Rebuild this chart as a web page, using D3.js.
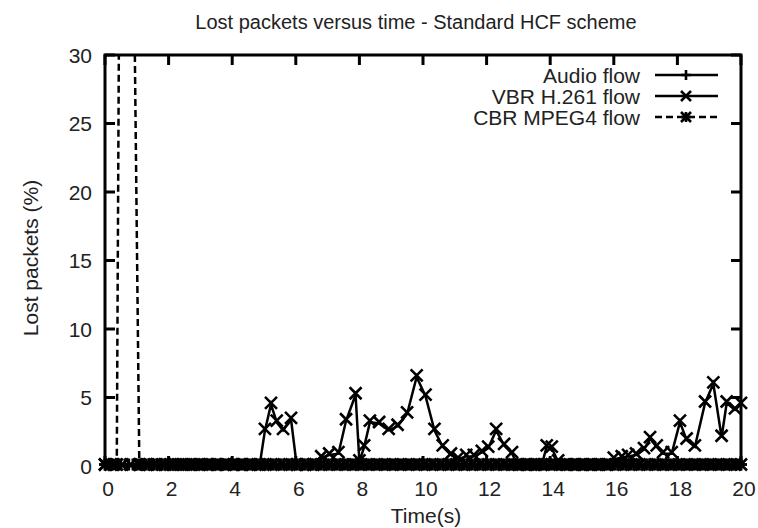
<!DOCTYPE html>
<html>
<head>
<meta charset="utf-8">
<script src="https://cdn.jsdelivr.net/npm/d3@7"></script>
<style>
  html, body { margin: 0; padding: 0; background: #fff; }
  svg text {
    font-family: "Liberation Sans", Arial, Helvetica, sans-serif;
    fill: #222;
  }
</style>
</head>
<body>
<svg id="chart" width="758" height="528"></svg>
<script>
// ---- chart data -------------------------------------------------------
const chartTitle = "Lost packets versus time - Standard HCF scheme";
const xAxisLabel = "Time(s)";
const yAxisLabel = "Lost packets (%)";
const xTickValues = [0, 2, 4, 6, 8, 10, 12, 14, 16, 18, 20];
const yTickValues = [0, 5, 10, 15, 20, 25, 30];
const seriesNames = ["Audio flow", "VBR H.261 flow", "CBR MPEG4 flow"];

// Audio flow: sampled every 0.125 s, no losses during the run
const audioTime = [
  0, 0.125, 0.25, 0.375, 0.5, 0.625, 0.75, 0.875, 1, 1.125, 1.25, 1.375, 1.5, 1.625, 1.75, 1.875,
  2, 2.125, 2.25, 2.375, 2.5, 2.625, 2.75, 2.875, 3, 3.125, 3.25, 3.375, 3.5, 3.625, 3.75, 3.875,
  4, 4.125, 4.25, 4.375, 4.5, 4.625, 4.75, 4.875, 5, 5.125, 5.25, 5.375, 5.5, 5.625, 5.75, 5.875,
  6, 6.125, 6.25, 6.375, 6.5, 6.625, 6.75, 6.875, 7, 7.125, 7.25, 7.375, 7.5, 7.625, 7.75, 7.875,
  8, 8.125, 8.25, 8.375, 8.5, 8.625, 8.75, 8.875, 9, 9.125, 9.25, 9.375, 9.5, 9.625, 9.75, 9.875,
  10, 10.125, 10.25, 10.375, 10.5, 10.625, 10.75, 10.875, 11, 11.125, 11.25, 11.375, 11.5, 11.625, 11.75, 11.875,
  12, 12.125, 12.25, 12.375, 12.5, 12.625, 12.75, 12.875, 13, 13.125, 13.25, 13.375, 13.5, 13.625, 13.75, 13.875,
  14, 14.125, 14.25, 14.375, 14.5, 14.625, 14.75, 14.875, 15, 15.125, 15.25, 15.375, 15.5, 15.625, 15.75, 15.875,
  16, 16.125, 16.25, 16.375, 16.5, 16.625, 16.75, 16.875, 17, 17.125, 17.25, 17.375, 17.5, 17.625, 17.75, 17.875,
  18, 18.125, 18.25, 18.375, 18.5, 18.625, 18.75, 18.875, 19, 19.125, 19.25, 19.375, 19.5, 19.625, 19.75, 19.875,
  20
];
const audioLoss = [
  0, 0, 0, 0, 0, 0, 0, 0, 0, 0, 0, 0, 0, 0, 0, 0,
  0, 0, 0, 0, 0, 0, 0, 0, 0, 0, 0, 0, 0, 0, 0, 0,
  0, 0, 0, 0, 0, 0, 0, 0, 0, 0, 0, 0, 0, 0, 0, 0,
  0, 0, 0, 0, 0, 0, 0, 0, 0, 0, 0, 0, 0, 0, 0, 0,
  0, 0, 0, 0, 0, 0, 0, 0, 0, 0, 0, 0, 0, 0, 0, 0,
  0, 0, 0, 0, 0, 0, 0, 0, 0, 0, 0, 0, 0, 0, 0, 0,
  0, 0, 0, 0, 0, 0, 0, 0, 0, 0, 0, 0, 0, 0, 0, 0,
  0, 0, 0, 0, 0, 0, 0, 0, 0, 0, 0, 0, 0, 0, 0, 0,
  0, 0, 0, 0, 0, 0, 0, 0, 0, 0, 0, 0, 0, 0, 0, 0,
  0, 0, 0, 0, 0, 0, 0, 0, 0, 0, 0, 0, 0, 0, 0, 0,
  0
];

// VBR H.261 flow
const vbrTime = [
  0, 0.27, 0.54, 0.81, 1.08, 1.35, 1.62, 1.89, 2.16, 2.43, 2.7, 2.97, 3.24, 3.51, 3.78, 4.05,
  4.32, 4.59, 4.86, 5.03, 5.22, 5.4, 5.6, 5.85, 6.03, 6.3, 6.55, 6.8, 7.05, 7.34, 7.58, 7.88,
  8.0, 8.15, 8.33, 8.62, 8.92, 9.2, 9.5, 9.8, 10.08, 10.36, 10.62, 10.88, 11.1, 11.36, 11.6, 11.85,
  12.05, 12.3, 12.55, 12.8, 13.0, 13.25, 13.5, 13.72, 13.89, 14.05, 14.25, 14.5, 14.75, 15.0, 15.25, 15.5,
  15.75, 16.0, 16.25, 16.45, 16.7, 16.95, 17.14, 17.35, 17.55, 17.82, 18.08, 18.29, 18.55, 18.87, 19.13, 19.39,
  19.55, 19.81, 20.0
];
const vbrLoss = [
  0, 0, 0, 0, 0, 0, 0, 0, 0, 0, 0, 0, 0, 0, 0, 0,
  0, 0, 0, 2.6, 4.5, 3.2, 2.6, 3.4, 0, 0, 0, 0.6, 0.8, 0.9, 3.3, 5.2,
  0.3, 1.4, 3.2, 3.1, 2.6, 2.9, 3.8, 6.5, 5.1, 2.6, 1.4, 0.8, 0.5, 0.7, 0.7, 1.0,
  1.3, 2.6, 1.5, 0.9, 0, 0, 0, 0, 1.4, 1.3, 0.3, 0, 0, 0, 0, 0,
  0, 0.5, 0.6, 0.7, 0.8, 1.2, 2.0, 1.4, 0.9, 0.9, 3.2, 1.9, 1.4, 4.6, 6.0, 2.1,
  4.6, 4.1, 4.5
];

// CBR MPEG4 flow: heavy loss at start-up, then none
const cbrTime = [
  0, 0.18, 0.37, 0.5, 0.7, 0.92, 1.08, 1.3, 1.55, 1.8, 2.05, 2.3, 2.55, 2.8, 3.05, 3.3,
  3.55, 3.8, 4.05, 4.3, 4.55, 4.8, 5.05, 5.3, 5.55, 5.8, 6.05, 6.3, 6.55, 6.8, 7.05, 7.3,
  7.55, 7.8, 8.05, 8.3, 8.55, 8.8, 9.05, 9.3, 9.55, 9.8, 10.05, 10.3, 10.55, 10.8, 11.05, 11.3,
  11.55, 11.8, 12.05, 12.3, 12.55, 12.8, 13.05, 13.3, 13.55, 13.8, 14.05, 14.3, 14.55, 14.8, 15.05, 15.3,
  15.55, 15.8, 16.05, 16.3, 16.55, 16.8, 17.05, 17.3, 17.55, 17.8, 18.05, 18.3, 18.55, 18.8, 19.05, 19.3,
  19.55, 19.8, 20.0
];
const cbrLoss = [
  0, 0, 0, 60, 80, 34, 0, 0, 0, 0, 0, 0, 0, 0, 0, 0,
  0, 0, 0, 0, 0, 0, 0, 0, 0, 0, 0, 0, 0, 0, 0, 0,
  0, 0, 0, 0, 0, 0, 0, 0, 0, 0, 0, 0, 0, 0, 0, 0,
  0, 0, 0, 0, 0, 0, 0, 0, 0, 0, 0, 0, 0, 0, 0, 0,
  0, 0, 0, 0, 0, 0, 0, 0, 0, 0, 0, 0, 0, 0, 0, 0,
  0, 0, 0
];

// ---- layout -----------------------------------------------------------
const plot = { left: 105, right: 741, top: 55, bottom: 466 };
const tickLen = 10;
const labelFont = 21;
const markerSize = 6;
const markerStroke = 2.6;
const lineStroke = 2.5;

const svg = d3.select("#chart");
const x = d3.scaleLinear().domain([0, 20]).range([plot.left, plot.right]);
const y = d3.scaleLinear().domain([0, 30]).range([plot.bottom, plot.top]);

// lines are clipped to the frame; point symbols are kept whenever their centre is inside
svg.append("defs").append("clipPath").attr("id", "plotClip")
  .append("rect")
  .attr("x", plot.left).attr("y", plot.top)
  .attr("width", plot.right - plot.left).attr("height", plot.bottom - plot.top);

function markerPath(kind, r) {
  const p = d3.path();
  if (kind === "plus" || kind === "star") {
    p.moveTo(-r, 0); p.lineTo(r, 0);
    p.moveTo(0, -r); p.lineTo(0, r);
  }
  if (kind === "cross" || kind === "star") {
    p.moveTo(-r, -r); p.lineTo(r, r);
    p.moveTo(-r, r); p.lineTo(r, -r);
  }
  return p.toString();
}

const series = [
  { name: seriesNames[0], t: audioTime, v: audioLoss, marker: "plus", dash: null },
  { name: seriesNames[1], t: vbrTime, v: vbrLoss, marker: "cross", dash: null },
  { name: seriesNames[2], t: cbrTime, v: cbrLoss, marker: "star", dash: "7,4" }
];

const line = d3.line().x(d => x(d[0])).y(d => y(d[1]));
const lineLayer = svg.append("g").attr("clip-path", "url(#plotClip)");
const pointLayer = svg.append("g");

series.forEach(s => {
  const pts = s.t.map((t, i) => [t, s.v[i]]);
  lineLayer.append("path")
    .attr("d", line(pts))
    .attr("fill", "none")
    .attr("stroke", "#000")
    .attr("stroke-width", lineStroke)
    .attr("stroke-dasharray", s.dash);
  pointLayer.selectAll(null)
    .data(pts.filter(d => d[1] <= 30))
    .enter().append("path")
    .attr("transform", d => `translate(${x(d[0])},${y(d[1]) - 1.5})`)
    .attr("d", markerPath(s.marker, markerSize))
    .attr("fill", "none")
    .attr("stroke", "#000")
    .attr("stroke-width", markerStroke);
});

// ---- frame and ticks --------------------------------------------------
const frame = svg.append("g").attr("stroke", "#000").attr("stroke-width", 3).attr("fill", "none");
frame.append("rect")
  .attr("x", plot.left).attr("y", plot.top)
  .attr("width", plot.right - plot.left).attr("height", plot.bottom - plot.top);

xTickValues.forEach(v => {
  frame.append("line").attr("x1", x(v)).attr("x2", x(v))
    .attr("y1", plot.bottom).attr("y2", plot.bottom - tickLen);
  frame.append("line").attr("x1", x(v)).attr("x2", x(v))
    .attr("y1", plot.top).attr("y2", plot.top + tickLen);
});
yTickValues.forEach(v => {
  frame.append("line").attr("y1", y(v)).attr("y2", y(v))
    .attr("x1", plot.left).attr("x2", plot.left + tickLen);
  frame.append("line").attr("y1", y(v)).attr("y2", y(v))
    .attr("x1", plot.right).attr("x2", plot.right - tickLen);
});

// tick labels
svg.append("g").selectAll("text").data(xTickValues).enter().append("text")
  .attr("x", d => x(d) + 3)
  .attr("y", 496)
  .attr("text-anchor", "middle")
  .attr("font-size", labelFont)
  .text(d => d);

svg.append("g").selectAll("text").data(yTickValues).enter().append("text")
  .attr("x", 92)
  .attr("y", d => y(d) + 7.5)
  .attr("text-anchor", "end")
  .attr("font-size", labelFont)
  .text(d => d);

// titles
svg.append("text")
  .attr("x", 416).attr("y", 29)
  .attr("text-anchor", "middle")
  .attr("font-size", 20)
  .text(chartTitle);

svg.append("text")
  .attr("x", 426).attr("y", 523)
  .attr("text-anchor", "middle")
  .attr("font-size", labelFont)
  .text(xAxisLabel);

svg.append("text")
  .attr("transform", "translate(37.5,258) rotate(-90)")
  .attr("text-anchor", "middle")
  .attr("font-size", labelFont)
  .text(yAxisLabel);

// ---- legend -----------------------------------------------------------
const legendRows = [75, 96, 117];
const legend = svg.append("g");
series.forEach((s, i) => {
  const ly = legendRows[i];
  legend.append("text")
    .attr("x", 640).attr("y", ly + 7.5)
    .attr("text-anchor", "end")
    .attr("font-size", labelFont)
    .text(s.name);
  legend.append("line")
    .attr("x1", 655).attr("x2", 718).attr("y1", ly).attr("y2", ly)
    .attr("stroke", "#000").attr("stroke-width", lineStroke)
    .attr("stroke-dasharray", s.dash);
  legend.append("path")
    .attr("transform", `translate(686,${ly})`)
    .attr("d", markerPath(s.marker, 5))
    .attr("fill", "none").attr("stroke", "#000").attr("stroke-width", markerStroke);
});
</script>
</body>
</html>
